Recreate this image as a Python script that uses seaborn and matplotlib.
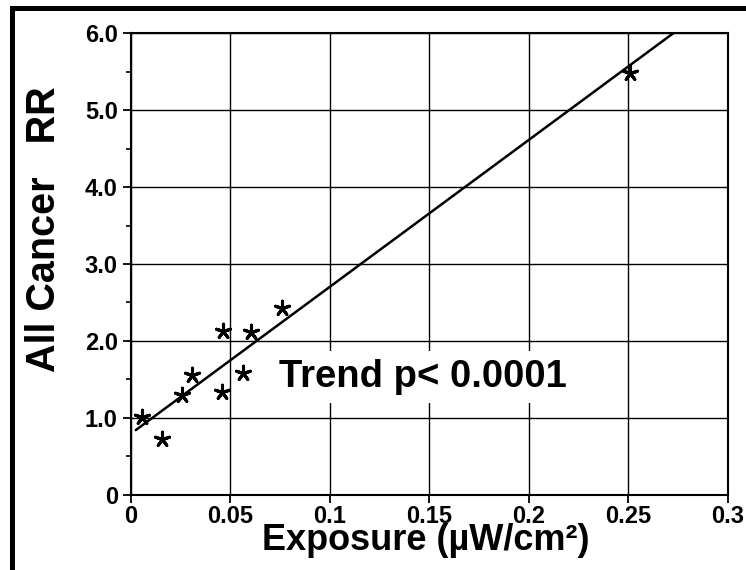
import numpy as np
import pandas as pd
import matplotlib.pyplot as plt
import seaborn as sns
from matplotlib.patches import Rectangle
from matplotlib.ticker import MultipleLocator

# values
exposure = [0.0057, 0.0154, 0.0258, 0.0305, 0.0456, 0.0461, 0.0563, 0.0602, 0.0758, 0.251]
cancer_rr = [1.01, 0.73, 1.30, 1.56, 1.34, 2.13, 1.58, 2.11, 2.43, 5.48]
trend_x = [0.0024, 0.2726]
trend_y = [0.84, 6.0]
x_ticks = [0, 0.05, 0.1, 0.15, 0.2, 0.25, 0.3]
x_labels = ['0', '0.05', '0.1', '0.15', '0.2', '0.25', '0.3']
y_ticks = [0, 1, 2, 3, 4, 5, 6]
y_labels = ['0', '1.0', '2.0', '3.0', '4.0', '5.0', '6.0']

pts = pd.DataFrame({'exposure': exposure, 'rr': cancer_rr})
trend = pd.DataFrame({'exposure': trend_x, 'rr': trend_y})

sns.set_style('ticks')
plt.rcParams['font.family'] = ['Liberation Sans', 'DejaVu Sans']
plt.rcParams['font.weight'] = 'bold'
plt.rcParams['text.color'] = 'black'
plt.rcParams['axes.labelcolor'] = 'black'
plt.rcParams['xtick.color'] = 'black'
plt.rcParams['ytick.color'] = 'black'

fig = plt.figure(figsize=(7.46, 5.70), dpi=100)
ax = fig.add_axes([131 / 746, 1 - 494.7 / 570, 596.7 / 746, 461.4 / 570])

sns.lineplot(data=trend, x='exposure', y='rr', color='black', linewidth=1.8, ax=ax, zorder=3)
sns.scatterplot(data=pts, x='exposure', y='rr', marker=(5, 2, 0), s=110,
                color='black', linewidth=2.2, ax=ax, zorder=4)

ax.set_xlim(0, 0.3)
ax.set_ylim(0, 6)
ax.set_xticks(x_ticks)
ax.set_xticklabels(x_labels)
ax.set_yticks(y_ticks)
ax.set_yticklabels(y_labels)
ax.yaxis.set_minor_locator(MultipleLocator(0.5))
ax.grid(True, which='major', color='black', linewidth=1.0)
ax.set_axisbelow(True)
for s in ax.spines.values():
    s.set_color('black')
    s.set_linewidth(1.5)
ax.tick_params(axis='both', which='major', length=5.5, width=1.3, color='black',
               labelcolor='black', labelsize=17, pad=2)
ax.tick_params(axis='y', which='minor', length=3.5, width=1.2, color='black')
ax.tick_params(axis='y', which='major', pad=4)
for lab in ax.get_xticklabels() + ax.get_yticklabels():
    lab.set_fontweight('bold')

ax.set_xlabel('Exposure (µW/cm²)', fontsize=26, fontweight='bold', color='black')
ax.xaxis.label.set_va('baseline')
ax.xaxis.set_label_coords(0.494, -0.12)
ax.set_ylabel('All Cancer   RR', fontsize=28.5, fontweight='bold', color='black')
ax.yaxis.label.set_va('center')
ax.yaxis.set_label_coords(-0.146, 0.576)

ax.text(0.147, 1.53, 'Trend p< 0.0001', fontsize=27.5, fontweight='bold',
        ha='center', va='center', zorder=5, color='black',
        bbox=dict(facecolor='white', edgecolor='none', pad=6))

# thick frame pieces at the left and top of the picture
fig.add_artist(Rectangle((10 / 746, 0), 5 / 746, 1 - 6 / 570,
                         transform=fig.transFigure, color='black', lw=0))
fig.add_artist(Rectangle((10 / 746, 1 - 11 / 570), 1, 5 / 570,
                         transform=fig.transFigure, color='black', lw=0))

fig.savefig('out.png', dpi=100)
